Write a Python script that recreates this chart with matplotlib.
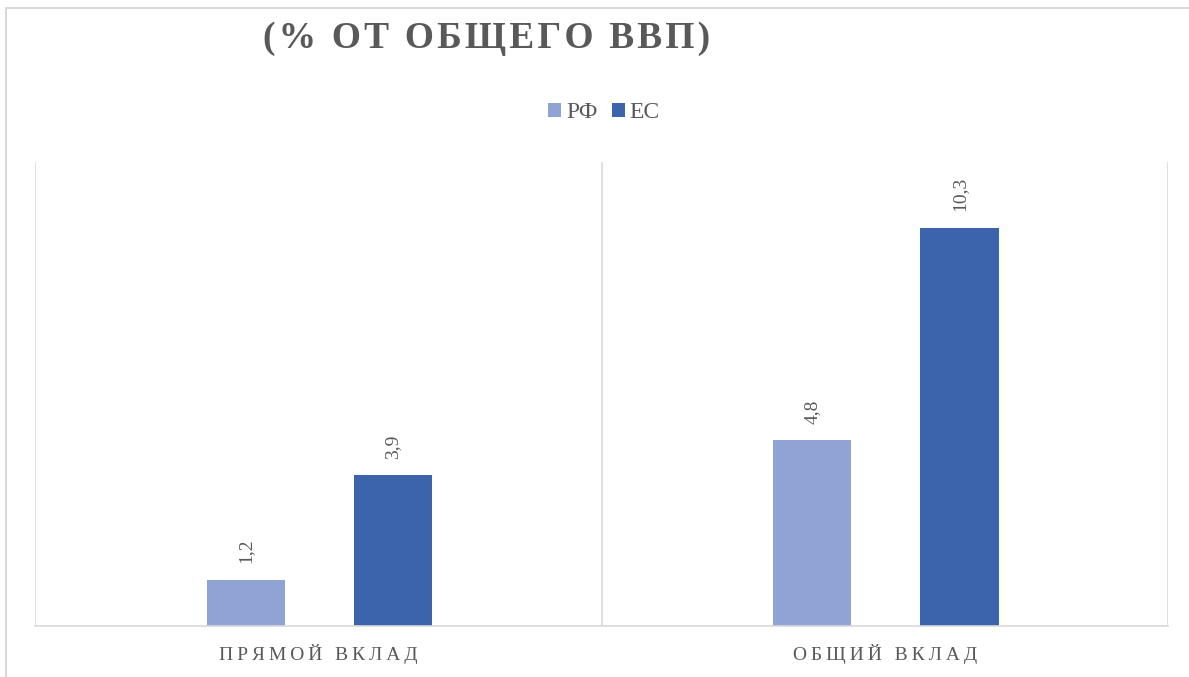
import matplotlib.pyplot as plt
import numpy as np

categories = ["ПРЯМОЙ ВКЛАД", "ОБЩИЙ ВКЛАД"]
series_names = ["РФ", "ЕС"]
rf_values = [1.2, 4.8]
ec_values = [3.9, 10.3]
title = "(% ОТ ОБЩЕГО ВВП)"

rf_color = "#8FA3D5"
ec_color = "#3B64AD"
text_gray = "#595959"
line_gray = "#D9D9D9"


def spaced(s, sep="\u2009"):
    return sep.join(s)


plt.rcParams['font.family'] = ['Liberation Serif', 'DejaVu Serif']

fig = plt.figure(figsize=(11.89, 6.77), dpi=100)
W, H = 1189, 677
ax = fig.add_axes([35 / W, 1 - 626 / H, (1168 - 35) / W, (626 - 162) / H])

x = np.arange(len(categories)) + 0.5
w = 0.138
b1 = ax.bar(x - 0.128, rf_values, w, color=rf_color, label=series_names[0])
b2 = ax.bar(x + 0.132, ec_values, w, color=ec_color, label=series_names[1])

for bars, vals in ((b1, rf_values), (b2, ec_values)):
    for r, v in zip(bars, vals):
        ax.annotate(f"{v:.1f}".replace(".", ","),
                    (r.get_x() + r.get_width() / 2, r.get_height()),
                    xytext=(0, 12), textcoords="offset points",
                    rotation=90, ha="center", va="bottom",
                    fontsize=14, color=text_gray)

ax.set_xlim(0, 2)
ax.set_ylim(0, 12)
ax.set_yticks([])
ax.set_xticks(x)
ax.set_xticklabels([spaced(c) for c in categories], fontsize=14, color=text_gray)
ax.tick_params(axis="x", length=0, pad=13)
for s in ("top", "right", "left"):
    ax.spines[s].set_visible(False)
ax.spines["bottom"].set_color(line_gray)
ax.spines["bottom"].set_linewidth(1.2)
for xv in (0, 1, 2):
    ax.axvline(xv, color=line_gray, lw=1.2, zorder=0)

fig.text(487 / W, 1 - 38 / H, spaced(title, "\u200a"), ha="center", va="center",
         fontsize=27, fontweight="bold", color=text_gray)

fig.legend(loc="center", bbox_to_anchor=(604 / W, 1 - 113 / H), ncol=2,
           frameon=False, fontsize=17, handlelength=0.55, handleheight=0.55,
           handletextpad=0.2, columnspacing=0.6, labelcolor=text_gray)

# outer chart border
fig.add_artist(plt.Line2D([6 / W, 1], [1 - 8 / H, 1 - 8 / H], color=line_gray, lw=1.5))
fig.add_artist(plt.Line2D([6 / W, 6 / W], [0, 1 - 8 / H], color=line_gray, lw=1.5))

fig.savefig("out.png", dpi=100)
